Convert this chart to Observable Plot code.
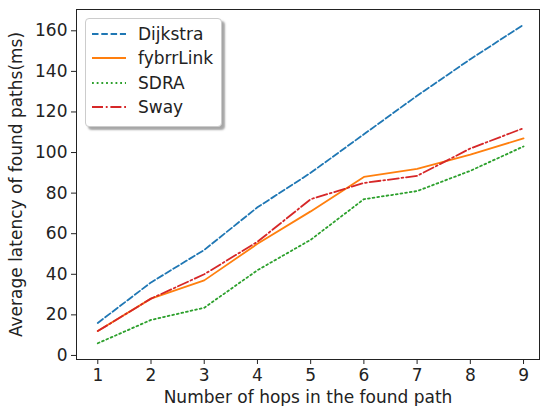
<!DOCTYPE html>
<html>
<head>
<meta charset="utf-8">
<script src="https://cdn.jsdelivr.net/npm/d3@7"></script>
<script src="https://cdn.jsdelivr.net/npm/@observablehq/plot@0.6"></script>
<style>
  html, body { margin: 0; padding: 0; background: #fff; }
  #wrap { position: relative; width: 543px; height: 406px; font-family: "DejaVu Sans", sans-serif; }
  #legend { position: absolute; left: 85px; top: 18px; width: 137px; height: 109px;
    background: #fff; border: 1px solid #ccc; border-radius: 4px; box-sizing: border-box;
    box-shadow: 3px 3px 2px rgba(0,0,0,0.35); }
  .row { position: absolute; left: 0; height: 22px; display: flex; align-items: center; }
  .row span { font-size: 17px; color: #222; margin-left: 11px; }
  .row svg { margin-left: 5px; }
</style>
</head>
<body>
<div id="wrap"></div>
<script>
const hops = [1, 2, 3, 4, 5, 6, 7, 8, 9];
const dijkstra = [16, 36, 52, 73, 90, 109, 128, 146, 163];
const fybrrLink = [12, 28, 37, 55, 71, 88, 92, 99, 107];
const sdra = [6, 17.5, 23.5, 42, 57, 77, 81, 91, 103];
const sway = [12, 28, 40, 56, 77, 85, 88.5, 102, 112];
const yTicks = [0, 20, 40, 60, 80, 100, 120, 140, 160];

const series = [
  {name: "Dijkstra", values: dijkstra, color: "#1f77b4", dash: "6.5,2.8"},
  {name: "fybrrLink", values: fybrrLink, color: "#ff7f0e", dash: null},
  {name: "SDRA", values: sdra, color: "#2ca02c", dash: "1.8,2.9"},
  {name: "Sway", values: sway, color: "#d62728", dash: "11,2.8,1.8,2.8"}
];

const marks = [];
for (const s of series) {
  const data = hops.map((h, i) => ({x: h, y: s.values[i]}));
  marks.push(Plot.line(data, {x: "x", y: "y", stroke: s.color, strokeWidth: 1.8,
    strokeDasharray: s.dash || undefined}));
}
marks.push(Plot.frame({stroke: "#222", strokeWidth: 1}));
marks.push(Plot.axisX({ticks: hops, tickSize: 5, tickPadding: 4, fontSize: 17,
  label: "Number of hops in the found path", labelAnchor: "center", labelArrow: "none", labelOffset: 43, stroke: "#222"}));
marks.push(Plot.axisY({ticks: yTicks, tickSize: 5, tickPadding: 4, fontSize: 17,
  label: "Average latency of found paths(ms)", labelAnchor: "center", labelArrow: "none", labelOffset: 67, stroke: "#222"}));

const chart = Plot.plot({
  width: 543,
  height: 406,
  marginLeft: 76,
  marginRight: 4,
  marginTop: 9,
  marginBottom: 47,
  style: {fontFamily: "'DejaVu Sans', sans-serif", fontSize: "17px", color: "#222", background: "#fff"},
  x: {domain: [0.6, 9.3]},
  y: {domain: [-2, 170.5]},
  marks
});
const wrap = document.getElementById("wrap");
wrap.appendChild(chart);

const legend = document.createElement("div");
legend.id = "legend";
series.forEach((s, i) => {
  const row = document.createElement("div");
  row.className = "row";
  row.style.top = (4 + i * 24.3) + "px";
  row.innerHTML = `<svg width="36" height="10"><line x1="1" x2="35" y1="5" y2="5" stroke="${s.color}" stroke-width="1.8" ${s.dash ? `stroke-dasharray="${s.dash}"` : ""}/></svg><span>${s.name}</span>`;
  legend.appendChild(row);
});
wrap.appendChild(legend);
</script>
</body>
</html>
